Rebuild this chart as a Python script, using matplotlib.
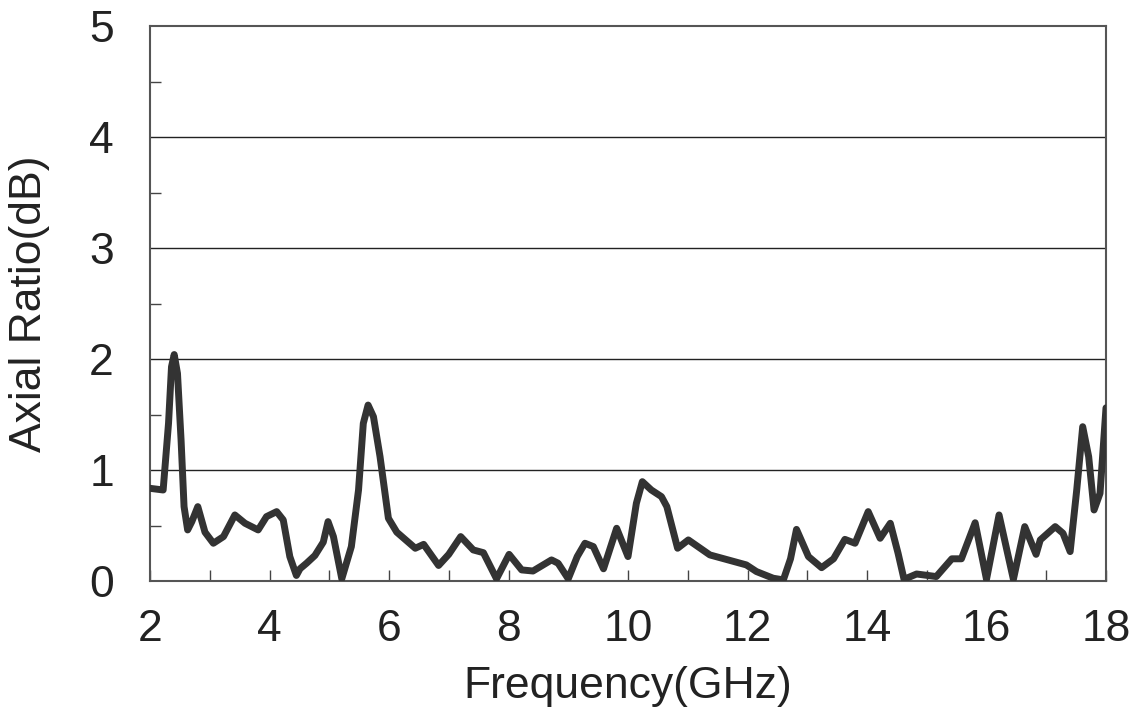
import matplotlib
matplotlib.use("Agg")
import matplotlib.pyplot as plt
from matplotlib.ticker import MultipleLocator

plt.rcParams['font.family'] = ['Liberation Sans', 'DejaVu Sans']

freq = [2.0, 2.22, 2.31, 2.36, 2.405, 2.46, 2.52, 2.57, 2.63, 2.70, 2.80, 2.92, 3.06, 3.23, 3.42, 3.59,
        3.81, 3.95, 4.12, 4.23, 4.34, 4.45, 4.51, 4.62, 4.76, 4.90, 4.98, 5.07, 5.21, 5.37, 5.49, 5.57, 5.65,
        5.74, 5.85, 5.99, 6.13, 6.44, 6.58, 6.83, 7.0, 7.2, 7.41, 7.58, 7.80, 8.01, 8.22, 8.41, 8.72,
        8.83, 9.0, 9.15, 9.28, 9.42, 9.59, 9.81, 10.0, 10.14, 10.24, 10.39, 10.56, 10.65, 10.83, 11.01,
        11.37, 11.98, 12.15, 12.43, 12.60, 12.72, 12.82, 13.02, 13.24, 13.44, 13.63, 13.80, 14.02, 14.22,
        14.39, 14.52, 14.62, 14.83, 15.16, 15.42, 15.58, 15.81, 16.0, 16.21, 16.45, 16.64, 16.83, 16.9,
        17.15, 17.28, 17.40, 17.51, 17.61, 17.71, 17.80, 17.90, 18.0]
axial_ratio = [0.835, 0.82, 1.42, 1.93, 2.04, 1.87, 1.27, 0.67, 0.46, 0.535, 0.67, 0.44, 0.34, 0.40, 0.595, 0.52,
               0.46, 0.58, 0.625, 0.55, 0.22, 0.05, 0.11, 0.16, 0.23, 0.35, 0.535, 0.40, 0.02, 0.31, 0.82, 1.42, 1.585,
               1.48, 1.12, 0.565, 0.44, 0.295, 0.33, 0.14, 0.24, 0.40, 0.28, 0.255, 0.02, 0.24, 0.10, 0.09, 0.19,
               0.16, 0.02, 0.22, 0.34, 0.31, 0.11, 0.475, 0.22, 0.70, 0.895, 0.82, 0.76, 0.67, 0.295, 0.37,
               0.235, 0.145, 0.085, 0.025, 0.01, 0.2, 0.465, 0.22, 0.12, 0.20, 0.375, 0.34, 0.625, 0.385,
               0.52, 0.25, 0.015, 0.063, 0.04, 0.20, 0.20, 0.525, 0.015, 0.595, 0.015, 0.49, 0.24, 0.37,
               0.49, 0.43, 0.265, 0.82, 1.39, 1.12, 0.64, 0.79, 1.56]

fig = plt.figure(figsize=(11.31, 7.2), dpi=100)
ax = fig.add_axes([150/1131, 1-581/720, (1106-150)/1131, (581-26)/720])

ax.plot(freq, axial_ratio, color='#333333', lw=5.0, solid_joinstyle='round', solid_capstyle='round', zorder=3)

ax.set_xlim(2, 18)
ax.set_ylim(0, 5)
ax.set_xticks([2, 4, 6, 8, 10, 12, 14, 16, 18])
ax.xaxis.set_minor_locator(MultipleLocator(1))
ax.set_yticks([0, 1, 2, 3, 4, 5])
ax.yaxis.set_minor_locator(MultipleLocator(0.5))
for y in [1, 2, 3, 4]:
    ax.axhline(y, color='#222222', lw=1.0, zorder=1)

ax.tick_params(axis='both', which='major', direction='in', length=0, labelsize=32, colors='#222222')
ax.tick_params(axis='x', which='major', pad=20)
ax.tick_params(axis='y', which='major', pad=26)
ax.tick_params(axis='x', which='minor', direction='in', length=8, width=1, color='#444444')
ax.tick_params(axis='y', which='minor', direction='in', length=8, width=1, color='#444444')
ax.tick_params(axis='x', which='major', length=8, width=1, color='#444444')

for s in ax.spines.values():
    s.set_color('#555555')
    s.set_linewidth(1.5)

ax.set_xlabel('Frequency(GHz)', fontsize=32, color='#222222', labelpad=12)
ax.set_ylabel('Axial Ratio(dB)', fontsize=32, color='#222222', labelpad=28)

fig.savefig('out.png', dpi=100)
